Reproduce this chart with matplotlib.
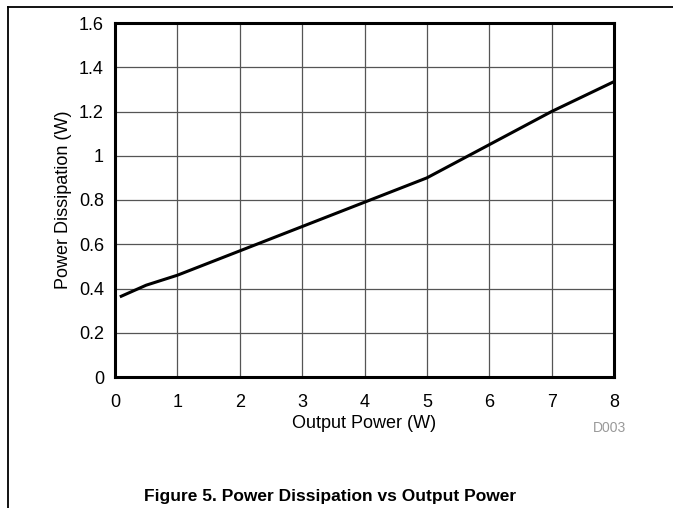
import matplotlib.pyplot as plt
from matplotlib.lines import Line2D

plt.rcParams['font.family'] = ['Liberation Sans', 'DejaVu Sans']

# curve
output_power = [0.1, 0.5, 1, 2, 3, 4, 5, 6, 7, 8]
power_dissipation = [0.365, 0.415, 0.46, 0.57, 0.68, 0.79, 0.90, 1.05, 1.20, 1.335]

x_ticks = [0, 1, 2, 3, 4, 5, 6, 7, 8]
y_ticks = [0, 0.2, 0.4, 0.6, 0.8, 1.0, 1.2, 1.4, 1.6]
y_labels = ['0', '0.2', '0.4', '0.6', '0.8', '1', '1.2', '1.4', '1.6']

W, H = 673, 508
fig = plt.figure(figsize=(W / 100, H / 100), dpi=100)

# frame lines around the figure (top and left)
fig.add_artist(Line2D([8 / W, 1], [1 - 7 / H, 1 - 7 / H], color='black', lw=1.3))
fig.add_artist(Line2D([8 / W, 8 / W], [0, 1 - 7 / H], color='black', lw=1.3))

ax = fig.add_axes([115 / W, 1 - 377 / H, (614 - 115) / W, (377 - 23) / H])
ax.plot(output_power, power_dissipation, color='black', lw=2.2, zorder=3)

ax.set_xlim(0, 8)
ax.set_ylim(0, 1.6)
ax.set_xticks(x_ticks)
ax.set_yticks(y_ticks)
ax.set_yticklabels(y_labels)
ax.tick_params(length=0, labelsize=13)
ax.tick_params(axis='x', pad=12)
ax.tick_params(axis='y', pad=8)
ax.grid(True, color='#555555', lw=0.9)
for s in ax.spines.values():
    s.set_linewidth(2.2)

ax.set_xlabel('Output Power (W)', fontsize=13, labelpad=3)
ax.set_ylabel('Power Dissipation (W)', fontsize=13, labelpad=5)

fig.text(610 / W, 1 - 428 / H, 'D003', fontsize=10, color='#999999', ha='center', va='center')
fig.text(330 / W, 1 - 497 / H, 'Figure 5. Power Dissipation vs Output Power',
         fontsize=12.5, fontweight='bold', ha='center', va='center')

fig.savefig('out.png', dpi=100)
